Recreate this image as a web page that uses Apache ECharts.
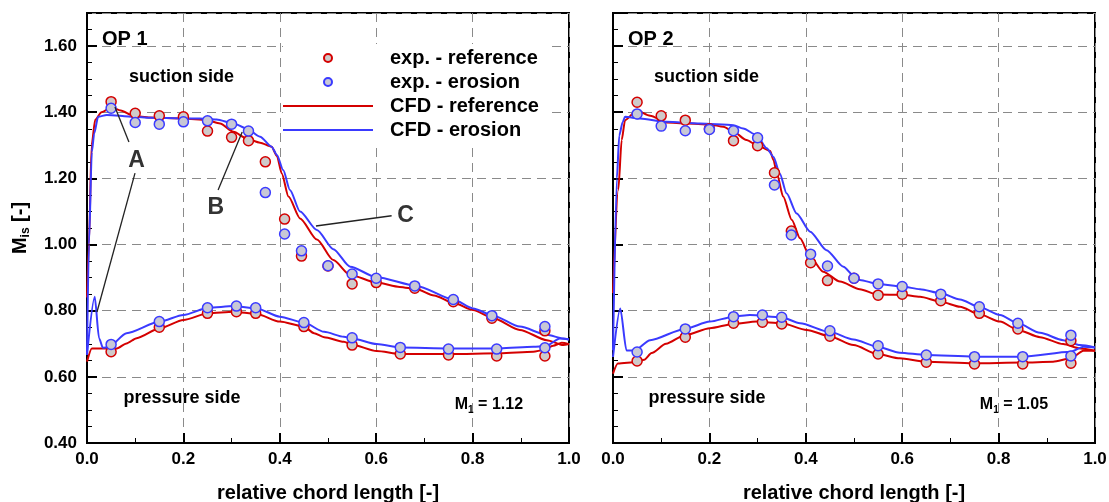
<!DOCTYPE html>
<html>
<head>
<meta charset="utf-8">
<script src="https://cdn.jsdelivr.net/npm/echarts@6/dist/echarts.min.js"></script>
<style>
  html, body { margin: 0; padding: 0; background: #fff; }
  #chart { width: 1109px; height: 502px; }
</style>
</head>
<body>
<div id="chart"></div>
<script>
// ---------------- DATA ----------------
// experimental stations (relative chord length)
const suctionX  = [0.05, 0.10, 0.15, 0.20, 0.25, 0.30, 0.335, 0.37, 0.41, 0.445, 0.50, 0.55, 0.60, 0.68, 0.76, 0.84, 0.95];
const pressureX = [0.05, 0.15, 0.25, 0.31, 0.35, 0.45, 0.55, 0.65, 0.75, 0.85, 0.95];

// OP 1 experiments
const op1ExpRefSuction  = [1.432, 1.397, 1.389, 1.386, 1.343, 1.324, 1.314, 1.250, 1.077, 0.965, 0.935, 0.881, 0.885, 0.868, 0.827, 0.777, 0.739];
const op1ExpEroSuction  = [1.412, 1.369, 1.364, 1.371, 1.374, 1.364, 1.343, 1.157, 1.032, 0.981, 0.936, 0.911, 0.898, 0.875, 0.834, 0.785, 0.752];
const op1ExpRefPressure = [0.676, 0.750, 0.792, 0.797, 0.792, 0.752, 0.696, 0.669, 0.666, 0.663, 0.663];
const op1ExpEroPressure = [0.698, 0.767, 0.809, 0.814, 0.809, 0.764, 0.718, 0.689, 0.684, 0.684, 0.688];

// OP 2 experiments
const op2ExpRefSuction  = [1.430, 1.389, 1.376, 1.350, 1.314, 1.299, 1.217, 1.041, 0.945, 0.891, 0.898, 0.847, 0.850, 0.830, 0.792, 0.745, 0.709];
const op2ExpEroSuction  = [1.395, 1.358, 1.344, 1.348, 1.344, 1.323, 1.180, 1.029, 0.971, 0.935, 0.898, 0.881, 0.873, 0.850, 0.812, 0.762, 0.726];
const op2ExpRefPressure = [0.648, 0.720, 0.762, 0.765, 0.760, 0.723, 0.669, 0.644, 0.639, 0.639, 0.641];
const op2ExpEroPressure = [0.675, 0.745, 0.782, 0.787, 0.780, 0.739, 0.694, 0.666, 0.661, 0.661, 0.663];

// OP 1 CFD  [x, Mis]
const op1CfdRefSuction = [[0.0,0.84],[0.004,1.0],[0.0095,1.30],[0.017,1.377],[0.03,1.40],[0.051,1.415],[0.07,1.405],[0.096,1.389],[0.131,1.384],[0.2,1.381],[0.248,1.376],[0.276,1.366],[0.304,1.341],[0.331,1.321],[0.359,1.308],[0.383,1.296],[0.394,1.268],[0.404,1.215],[0.418,1.145],[0.442,1.079],[0.477,1.015],[0.511,0.953],[0.546,0.908],[0.601,0.885],[0.649,0.872],[0.684,0.865],[0.72,0.846],[0.76,0.824],[0.801,0.802],[0.843,0.777],[0.898,0.742],[0.954,0.711],[0.988,0.696],[1.0,0.699]];
const op1CfdRefPressure = [[0.0,0.646],[0.01,0.686],[0.027,0.686],[0.062,0.686],[0.082,0.701],[0.103,0.717],[0.151,0.747],[0.2,0.772],[0.252,0.792],[0.304,0.797],[0.352,0.79],[0.4,0.767],[0.45,0.752],[0.471,0.732],[0.492,0.72],[0.533,0.706],[0.55,0.697],[0.601,0.678],[0.651,0.669],[0.753,0.669],[0.857,0.671],[0.926,0.676],[0.947,0.681],[0.967,0.694],[0.985,0.703],[1.0,0.699]];
const op1CfdEroSuction = [[0.0,0.67],[0.004,1.0],[0.01,1.28],[0.015,1.336],[0.023,1.386],[0.041,1.392],[0.096,1.386],[0.131,1.383],[0.234,1.381],[0.269,1.378],[0.304,1.366],[0.331,1.351],[0.359,1.326],[0.383,1.296],[0.394,1.271],[0.407,1.225],[0.421,1.165],[0.442,1.100],[0.477,1.044],[0.511,0.986],[0.546,0.933],[0.601,0.901],[0.684,0.875],[0.76,0.834],[0.801,0.807],[0.843,0.785],[0.898,0.752],[0.954,0.727],[0.988,0.716],[1.0,0.713]];
const op1CfdEroPressure = [[0.0,0.666],[0.016,0.842],[0.025,0.717],[0.033,0.688],[0.045,0.690],[0.082,0.732],[0.151,0.767],[0.2,0.787],[0.252,0.809],[0.304,0.814],[0.352,0.807],[0.4,0.782],[0.45,0.764],[0.492,0.736],[0.533,0.721],[0.55,0.716],[0.601,0.699],[0.651,0.689],[0.753,0.686],[0.857,0.686],[0.926,0.691],[0.952,0.693],[0.981,0.716],[1.0,0.713]];

// OP 2 CFD  [x, Mis]
const op2CfdRefSuction = [[0.0,0.853],[0.011,1.165],[0.018,1.316],[0.025,1.376],[0.049,1.405],[0.077,1.389],[0.111,1.369],[0.153,1.366],[0.201,1.363],[0.229,1.356],[0.25,1.341],[0.277,1.316],[0.298,1.301],[0.326,1.283],[0.333,1.255],[0.340,1.215],[0.353,1.145],[0.371,1.074],[0.388,1.019],[0.409,0.963],[0.436,0.918],[0.471,0.888],[0.512,0.865],[0.549,0.849],[0.6,0.848],[0.637,0.842],[0.68,0.827],[0.72,0.812],[0.759,0.79],[0.803,0.767],[0.84,0.742],[0.886,0.72],[0.934,0.699],[0.969,0.686],[1.0,0.679]];
const op2CfdRefPressure = [[0.0,0.61],[0.01,0.64],[0.05,0.645],[0.065,0.652],[0.08,0.672],[0.11,0.70],[0.149,0.726],[0.201,0.747],[0.25,0.760],[0.298,0.767],[0.35,0.762],[0.402,0.742],[0.449,0.723],[0.499,0.696],[0.549,0.669],[0.595,0.656],[0.649,0.646],[0.748,0.641],[0.849,0.643],[0.913,0.646],[0.95,0.656],[0.976,0.679],[1.0,0.679]];
const op2CfdEroSuction = [[0.0,0.68],[0.008,1.2],[0.013,1.33],[0.02,1.37],[0.025,1.386],[0.056,1.381],[0.111,1.371],[0.18,1.366],[0.25,1.361],[0.27,1.351],[0.298,1.331],[0.319,1.291],[0.333,1.265],[0.346,1.215],[0.36,1.155],[0.381,1.094],[0.409,1.039],[0.443,0.983],[0.478,0.933],[0.5,0.905],[0.512,0.893],[0.549,0.881],[0.6,0.873],[0.637,0.865],[0.68,0.853],[0.72,0.834],[0.759,0.812],[0.803,0.787],[0.84,0.762],[0.886,0.733],[0.934,0.711],[0.969,0.696],[1.0,0.689]];
const op2CfdEroPressure = [[0.0,0.66],[0.015,0.807],[0.028,0.68],[0.045,0.68],[0.077,0.711],[0.149,0.745],[0.201,0.767],[0.25,0.782],[0.284,0.787],[0.35,0.78],[0.388,0.762],[0.449,0.736],[0.499,0.713],[0.549,0.691],[0.595,0.673],[0.649,0.666],[0.749,0.661],[0.849,0.661],[0.95,0.676],[0.976,0.691],[1.0,0.689]];

// axis ticks
const xTickStep = 0.2;
const yTickStep = 0.2;
const yMinorStep = 0.05;
const xRange = [0, 1];
const yRange = [0.4, 1.7];

// ---------------- STYLE ----------------
const FONT = '"Liberation Sans", Arial, Helvetica, sans-serif';
const RED = '#d40000';
const BLUE = '#3a3aff';
const GRID_GRAY = '#8a8a8a';
const PANEL_LEFT = [87, 613];
const PANEL_TOP = 13, PANEL_W = 482, PANEL_H = 430;

function pairs(xs, ys) { return xs.map((x, i) => [x, ys[i]]); }

const chart = echarts.init(document.getElementById('chart'), null, { renderer: 'canvas' });

const grids = [], xAxes = [], yAxes = [];
for (let p = 0; p < 2; p++) {
  grids.push({ left: PANEL_LEFT[p], top: PANEL_TOP, width: PANEL_W, height: PANEL_H, outerBoundsMode: 'none',
               containLabel: false, show: true, borderColor: '#000', borderWidth: 2, backgroundColor: 'transparent' });
  xAxes.push({
    type: 'value', gridIndex: p, min: xRange[0], max: xRange[1], interval: xTickStep,
    axisLine: { show: true, onZero: false, lineStyle: { color: '#000', width: 2 } },
    axisTick: { show: true, inside: true, length: 10, lineStyle: { color: '#000', width: 2 } },
    minorTick: { show: true, splitNumber: 2, length: 5, lineStyle: { color: '#000', width: 1 } },
    axisLabel: { formatter: v => v.toFixed(1), fontSize: 17, fontWeight: 'bold', color: '#000', fontFamily: FONT, margin: 8 },
    splitLine: { show: true, lineStyle: { color: GRID_GRAY, type: [9, 6], width: 1 } }
  });
  yAxes.push({
    type: 'value', gridIndex: p, min: yRange[0], max: yRange[1], interval: yTickStep,
    axisLine: { show: true, onZero: false, lineStyle: { color: '#000', width: 2 } },
    axisTick: { show: true, inside: true, length: 10, lineStyle: { color: '#000', width: 2 } },
    axisLabel: { show: p === 0, formatter: v => v.toFixed(2), fontSize: 17, fontWeight: 'bold', color: '#000',
                 fontFamily: FONT, margin: 10, showMaxLabel: false },
    splitLine: { show: true, lineStyle: { color: GRID_GRAY, type: [9, 6], width: 1 } }
  });
}
// overlay grids for the 0.05 minor ticks on the y axes
for (let p = 0; p < 2; p++) {
  grids.push({ left: PANEL_LEFT[p], top: PANEL_TOP, width: PANEL_W, height: PANEL_H, outerBoundsMode: 'none',
               containLabel: false, show: false });
  xAxes.push({ type: 'value', gridIndex: 2 + p, min: xRange[0], max: xRange[1], show: false });
  yAxes.push({
    type: 'value', gridIndex: 2 + p, min: yRange[0], max: yRange[1], interval: yMinorStep,
    axisLine: { show: false },
    axisTick: { show: true, inside: true, length: 5, lineStyle: { color: '#000', width: 1 } },
    axisLabel: { show: false }, splitLine: { show: false }
  });
}

const panels = [
  { cfdRefS: op1CfdRefSuction, cfdRefP: op1CfdRefPressure, cfdEroS: op1CfdEroSuction, cfdEroP: op1CfdEroPressure,
    expRef: pairs(suctionX, op1ExpRefSuction).concat(pairs(pressureX, op1ExpRefPressure)),
    expEro: pairs(suctionX, op1ExpEroSuction).concat(pairs(pressureX, op1ExpEroPressure)) },
  { cfdRefS: op2CfdRefSuction, cfdRefP: op2CfdRefPressure, cfdEroS: op2CfdEroSuction, cfdEroP: op2CfdEroPressure,
    expRef: pairs(suctionX, op2ExpRefSuction).concat(pairs(pressureX, op2ExpRefPressure)),
    expEro: pairs(suctionX, op2ExpEroSuction).concat(pairs(pressureX, op2ExpEroPressure)) }
];

const series = [];
function lineSeries(name, color, data, p) {
  return { type: 'line', name, data, xAxisIndex: p, yAxisIndex: p, symbol: 'none', showSymbol: false,
           smooth: 0.25, smoothMonotone: 'x', lineStyle: { color, width: 2 }, itemStyle: { color }, z: 3, silent: true };
}
panels.forEach((d, p) => {
  series.push(lineSeries('CFD - reference', RED, d.cfdRefS, p));
  series.push(lineSeries('CFD - reference', RED, d.cfdRefP, p));
  series.push(lineSeries('CFD - erosion', BLUE, d.cfdEroS, p));
  series.push(lineSeries('CFD - erosion', BLUE, d.cfdEroP, p));
});
panels.forEach((d, p) => {
  series.push({ type: 'scatter', name: 'exp. - reference', data: d.expRef, xAxisIndex: p, yAxisIndex: p,
                symbol: 'circle', symbolSize: 10, z: 4, silent: true,
                itemStyle: { color: '#cfcaca', borderColor: RED, borderWidth: 1.5, opacity: 1 } });
  series.push({ type: 'scatter', name: 'exp. - erosion', data: d.expEro, xAxisIndex: p, yAxisIndex: p,
                symbol: 'circle', symbolSize: 10, z: 5, silent: true,
                itemStyle: { color: '#c8c8d6', borderColor: BLUE, borderWidth: 1.5, opacity: 1 } });
});

const LINE_ICON = 'path://M0,0L90,0L90,2L0,2Z';
const option = {
  animation: false,
  backgroundColor: '#fff',
  grid: grids, xAxis: xAxes, yAxis: yAxes, series,
  legend: {
    left: 283, top: 44, orient: 'vertical', selectedMode: false,
    backgroundColor: '#fff', padding: [4, 12, 3, 0],
    itemWidth: 90, itemHeight: 8, itemGap: 4,
    textStyle: { fontSize: 20, fontWeight: 'bold', color: '#000', fontFamily: FONT, padding: [0, 0, 0, 12] },
    data: [ { name: 'exp. - reference', icon: 'circle' }, { name: 'exp. - erosion', icon: 'circle' },
            { name: 'CFD - reference', icon: LINE_ICON }, { name: 'CFD - erosion', icon: LINE_ICON } ]
  }
};
chart.setOption(option);

// ---------------- ANNOTATIONS (anchored in data coordinates) ----------------
const labelFont = 'bold 18px ' + FONT;
const notes = [
  { g: 0, x: 0.031, y: 1.621, text: 'OP 1', font: 'bold 20px ' + FONT, align: 'left' },
  { g: 1, x: 0.031, y: 1.621, text: 'OP 2', font: 'bold 20px ' + FONT, align: 'left' },
  { g: 0, x: 0.196, y: 1.506, text: 'suction side', font: labelFont, align: 'center' },
  { g: 1, x: 0.194, y: 1.506, text: 'suction side', font: labelFont, align: 'center' },
  { g: 0, x: 0.197, y: 0.536, text: 'pressure side', font: labelFont, align: 'center' },
  { g: 1, x: 0.195, y: 0.536, text: 'pressure side', font: labelFont, align: 'center' },
  { g: 0, x: 0.103, y: 1.255, text: 'A', font: 'bold 23px ' + FONT, align: 'center', color: '#333' },
  { g: 0, x: 0.267, y: 1.113, text: 'B', font: 'bold 23px ' + FONT, align: 'center', color: '#333' },
  { g: 0, x: 0.661, y: 1.088, text: 'C', font: 'bold 23px ' + FONT, align: 'center', color: '#333' }
];
const machNotes = [ { g: 0, x: 0.763, y: 0.515, value: '1.12' }, { g: 1, x: 0.761, y: 0.515, value: '1.05' } ];
const pointers = [
  { g: 0, from: [0.087, 1.310], to: [0.058, 1.416] },
  { g: 0, from: [0.0996, 1.216], to: [0.0207, 0.796] },
  { g: 0, from: [0.272, 1.165], to: [0.322, 1.340] },
  { g: 0, from: [0.475, 1.056], to: [0.632, 1.087] }
];

const px = (g, x, y) => chart.convertToPixel({ gridIndex: g }, [x, y]);
const graphic = [];
notes.forEach(n => {
  const [X, Y] = px(n.g, n.x, n.y);
  graphic.push({ type: 'text', x: X, y: Y, z: 100,
    style: { text: n.text, font: n.font, fill: n.color || '#000', textAlign: n.align, textVerticalAlign: 'middle' } });
});
machNotes.forEach(n => {
  const [X, Y] = px(n.g, n.x, n.y);
  graphic.push({ type: 'text', x: X, y: Y, z: 100,
    style: { text: '{m|M}{s|1}{m| = ' + n.value + '}', textAlign: 'left', textVerticalAlign: 'middle',
      rich: { m: { font: 'bold 16px ' + FONT, fill: '#000', lineHeight: 20, verticalAlign: 'middle' },
              s: { font: 'bold 10px ' + FONT, fill: '#000', lineHeight: 10, verticalAlign: 'bottom' } } } });
});
pointers.forEach(l => {
  const a = px(l.g, l.from[0], l.from[1]), b = px(l.g, l.to[0], l.to[1]);
  graphic.push({ type: 'line', z: 100, shape: { x1: a[0], y1: a[1], x2: b[0], y2: b[1] },
    style: { stroke: '#222', lineWidth: 1.3 } });
});
// x axis titles, centred under each panel
for (let p = 0; p < 2; p++) {
  const l = px(p, xRange[0], yRange[0]), r = px(p, xRange[1], yRange[0]);
  graphic.push({ type: 'text', x: (l[0] + r[0]) / 2, y: l[1] + 50, z: 100,
    style: { text: 'relative chord length [-]', font: 'bold 20px ' + FONT, fill: '#000',
             textAlign: 'center', textVerticalAlign: 'middle' } });
}
// y axis title (rotated)
{
  const top = chart.convertToPixel({ gridIndex: 0 }, [0, yRange[1]])[1];
  const bot = chart.convertToPixel({ gridIndex: 0 }, [0, yRange[0]])[1];
  graphic.push({ type: 'text', x: 20, y: (top + bot) / 2, rotation: Math.PI / 2, z: 100,
    style: { text: '{m|M}{s|is}{m| [-]}', textAlign: 'center', textVerticalAlign: 'middle',
      rich: { m: { font: 'bold 20px ' + FONT, fill: '#000', lineHeight: 24, verticalAlign: 'middle' },
              s: { font: 'bold 12px ' + FONT, fill: '#000', lineHeight: 12, verticalAlign: 'bottom' } } } });
}
chart.setOption({ graphic });
</script>
</body>
</html>
